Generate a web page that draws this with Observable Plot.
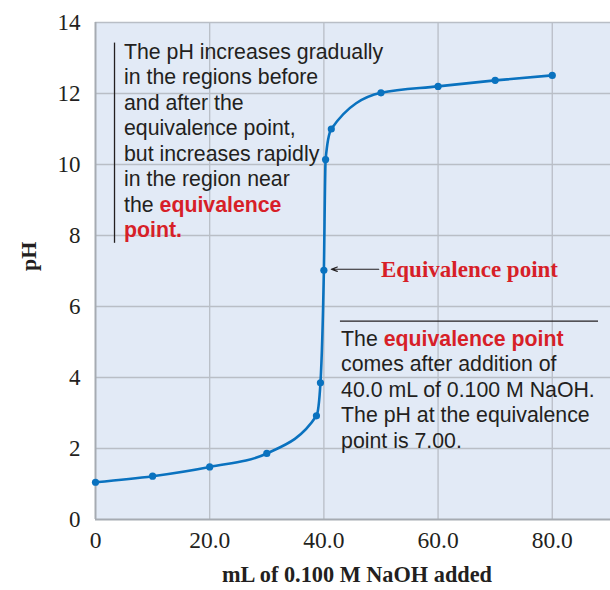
<!DOCTYPE html>
<html>
<head>
<meta charset="utf-8">
<script src="https://cdn.jsdelivr.net/npm/d3@7"></script>
<script src="https://cdn.jsdelivr.net/npm/@observablehq/plot@0.6"></script>
<style>
  html, body { margin: 0; padding: 0; background: #ffffff; }
  #chart { width: 610px; height: 590px; }
</style>
</head>
<body>
<div id="chart"></div>
<script>
// Titration data
const volumeML = [0, 10, 20, 30, 38.7, 39.4, 40, 40.3, 41.3, 50, 60, 70, 80];
const pHValues = [1.05, 1.22, 1.48, 1.86, 2.92, 3.85, 7.02, 10.14, 11.0, 12.02, 12.2, 12.37, 12.51];

const xTicks = [0, 20, 40, 60, 80];
const yTicks = [0, 2, 4, 6, 8, 10, 12, 14];

const xLabel = "mL of 0.100 M NaOH added";
const yLabel = "pH";
const eqLabel = "Equivalence point";

const leftNote = [
  [["The pH increases gradually", false]],
  [["in the regions before", false]],
  [["and after the", false]],
  [["equivalence point,", false]],
  [["but increases rapidly", false]],
  [["in the region near", false]],
  [["the ", false], ["equivalence", true]],
  [["point.", true]]
];
const rightNote = [
  [["The ", false], ["equivalence point", true]],
  [["comes after addition of", false]],
  [["40.0 mL of 0.100 M NaOH.", false]],
  [["The pH at the equivalence", false]],
  [["point is 7.00.", false]]
];

const data = volumeML.map((v, i) => ({v, pH: pHValues[i]}));

const blue = "#0a72bf";
const red = "#d71f28";
const ink = "#231f20";
const gridColor = "#b9bec6";
const serif = "'Liberation Serif', 'Times New Roman', serif";
const sans = "'Liberation Sans', Arial, sans-serif";

const plot = Plot.plot({
  width: 610,
  height: 590,
  marginLeft: 95,
  marginRight: 0,
  marginTop: 22,
  marginBottom: 71,
  style: {background: "white", fontFamily: serif, color: ink},
  x: {domain: [0, 90.2], label: null},
  y: {domain: [0, 14], label: null},
  marks: [
    Plot.frame({fill: "#e2eaf6", stroke: null}),
    Plot.gridX(xTicks.filter(d => d > 0), {stroke: gridColor, strokeOpacity: 1, strokeWidth: 1.3}),
    Plot.gridY(yTicks.filter(d => d > 0), {stroke: gridColor, strokeOpacity: 1, strokeWidth: 1.3}),
    Plot.ruleX([0], {stroke: "#a6abb2", strokeWidth: 2}),
    Plot.ruleY([0], {stroke: "#a6abb2", strokeWidth: 2}),
    Plot.axisX({ticks: xTicks, tickSize: 0, tickPadding: 12, fontSize: 23.5, fill: ink, label: null,
      tickFormat: d => d === 0 ? "0" : d.toFixed(1)}),
    Plot.axisY({ticks: yTicks, tickSize: 0, tickPadding: 15, fontSize: 23, fill: ink, label: null}),
    Plot.text([xLabel], {frameAnchor: "bottom", dy: 62, dx: 4, fontSize: 22.3, fontWeight: "bold", fill: ink, fontFamily: serif}),
    Plot.text([yLabel], {frameAnchor: "left", dx: -67, rotate: -90, fontSize: 22, fontWeight: "bold", fill: ink, fontFamily: serif}),
    Plot.line(data, {x: "v", y: "pH", curve: "monotone-x", stroke: blue, strokeWidth: 2.6}),
    Plot.dot(data, {x: "v", y: "pH", r: 3.6, fill: blue, stroke: null}),
    Plot.arrow([0], {x1: 49.6, x2: 41.3, y1: 7.05, y2: 7.05, stroke: ink, strokeWidth: 1.2, headLength: 8, headAngle: 40}),
    Plot.text([eqLabel], {x: 50.0, y: 7.05, textAnchor: "start", fontSize: 23, fontWeight: "bold", fill: red, fontFamily: serif}),
    Plot.ruleX([3.33], {y1: 7.78, y2: 13.42, stroke: ink, strokeWidth: 1.3}),
    Plot.ruleY([5.59], {x1: 42.9, x2: 88.1, stroke: ink, strokeWidth: 1.3})
  ]
});

document.getElementById("chart").appendChild(plot);

const xs = plot.scale("x"), ys = plot.scale("y");
const svg = d3.select(plot);

function note(lines, xv, yv, lineHeight) {
  const x0 = xs.apply(xv), y0 = ys.apply(yv);
  const t = svg.append("text")
    .attr("font-family", sans)
    .attr("font-size", 21.3)
    .attr("text-anchor", "start")
    .attr("dominant-baseline", "middle")
    .attr("fill", ink);
  lines.forEach((segs, i) => {
    segs.forEach(([s, hot], j) => {
      const ts = t.append("tspan").text(s);
      if (j === 0) ts.attr("x", x0).attr("y", y0 + i * lineHeight);
      if (hot) ts.attr("fill", red).attr("font-weight", "bold");
    });
  });
}
note(leftNote, 5.08, 13.13, 25.5);
note(rightNote, 43.1, 5.05, 25.5);
</script>
</body>
</html>
